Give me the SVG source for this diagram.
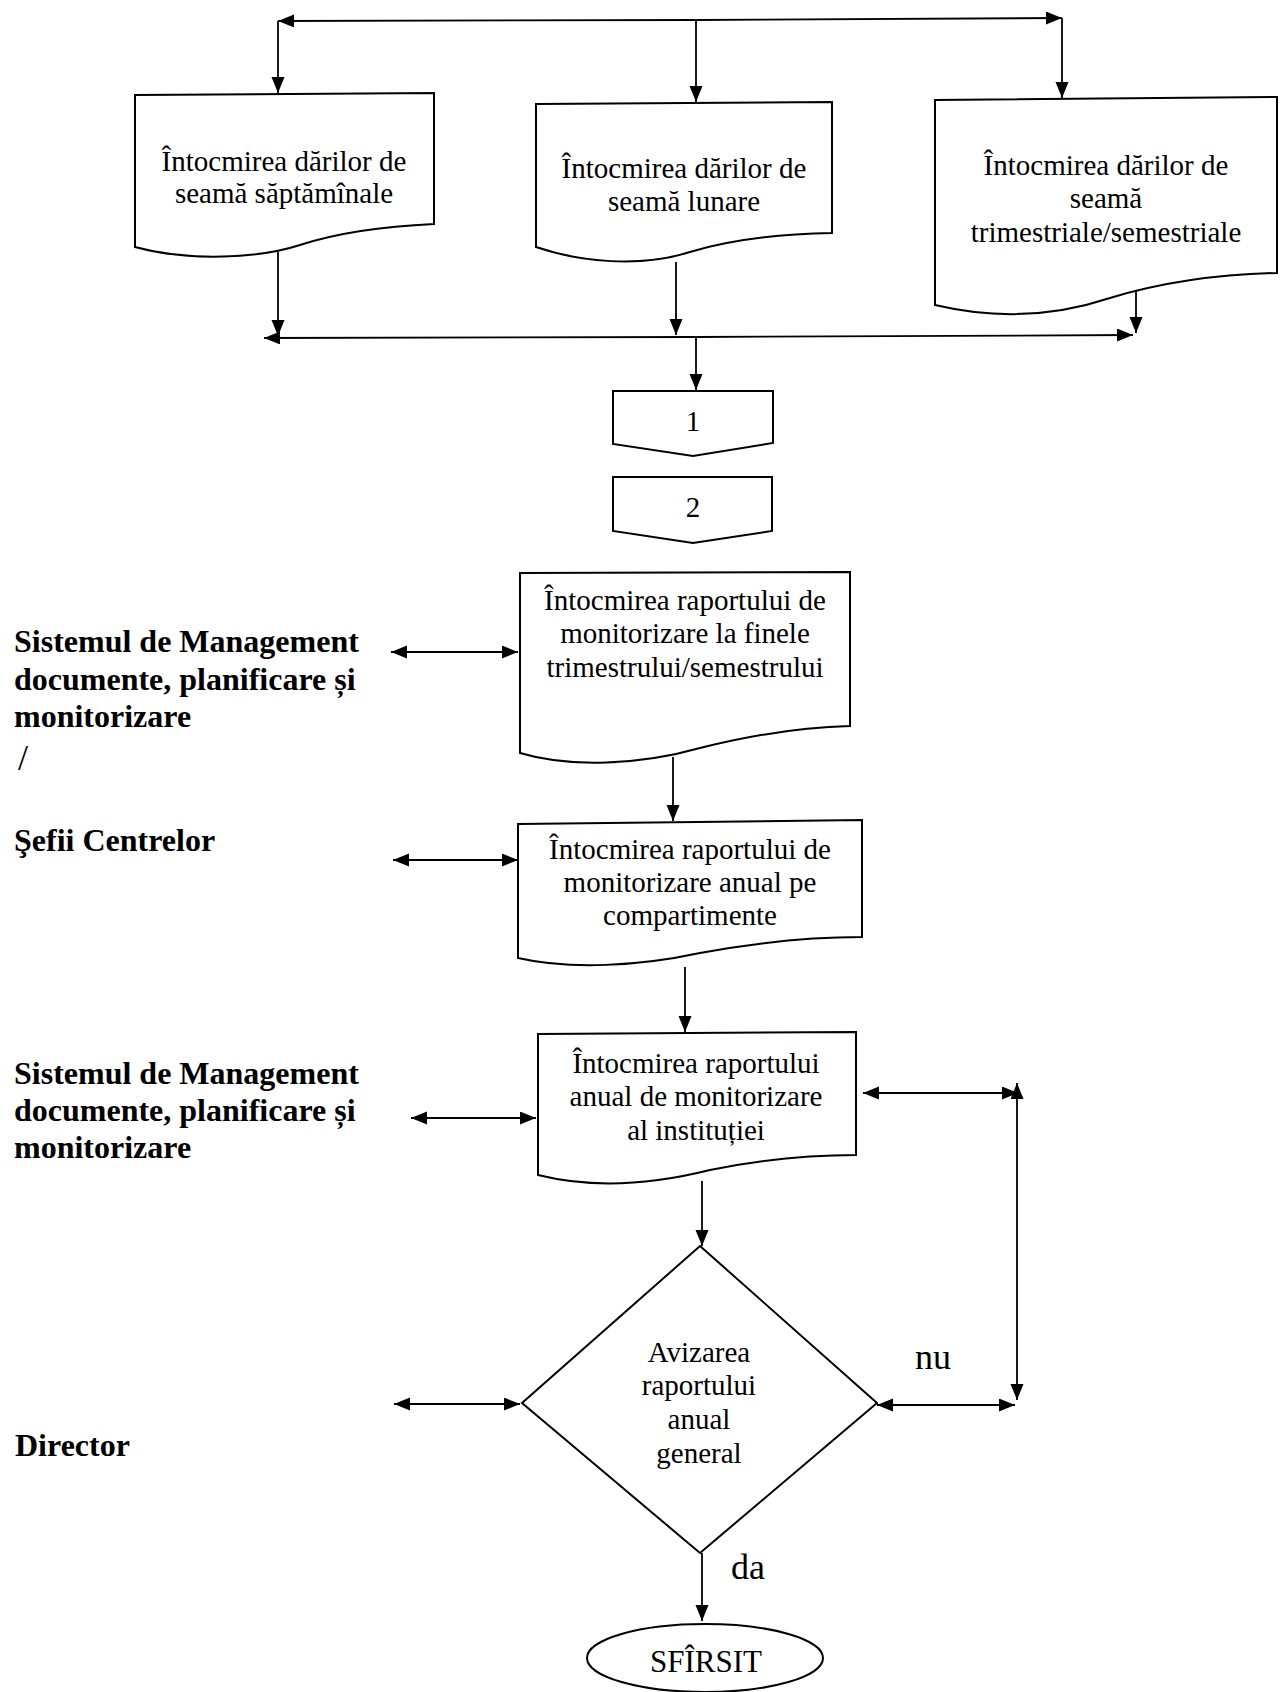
<svg xmlns="http://www.w3.org/2000/svg" width="1284" height="1692" viewBox="0 0 1284 1692">
<defs>
<marker id="ah" markerUnits="userSpaceOnUse" markerWidth="18" markerHeight="14" refX="16" refY="6.5" orient="auto-start-reverse">
<path d="M0,0 L16,6.5 L0,13 Z" fill="#000"/>
</marker>
</defs>
<style>
.shape{fill:#fff;stroke:#000;stroke-width:2;}
.t{font-family:"Liberation Serif","Times New Roman",serif;font-size:29px;fill:#000;text-anchor:middle;}
.lbl{font-family:"Liberation Serif","Times New Roman",serif;font-size:32px;font-weight:bold;fill:#000;}
.slash{font-family:"Liberation Serif","Times New Roman",serif;font-size:36px;fill:#000;}
.big{font-family:"Liberation Serif","Times New Roman",serif;font-size:36px;fill:#000;text-anchor:middle;}
.c{fill:none;stroke:#000;stroke-width:1.8;}
.a{marker-end:url(#ah);}
.aa{marker-start:url(#ah);marker-end:url(#ah);}
</style>
<rect width="1284" height="1692" fill="#fff"/>

<g id="connectors">
<path class="c a" d="M696,20 L278,21"/>
<path class="c a" d="M696,20 L1062,18"/>
<path class="c a" d="M278,21 L278,93"/>
<path class="c a" d="M696,20 L696,102"/>
<path class="c a" d="M1062,18 L1062,98"/>
<path class="c a" d="M278,252 L278,336"/>
<path class="c a" d="M676,262 L676,335"/>
<path class="c a" d="M1136,290 L1136,333"/>
<path class="c a" d="M696,337 L264,338"/>
<path class="c a" d="M696,337 L1133,335"/>
<path class="c a" d="M696,337 L696,390"/>
<path class="c a" d="M673,757 L673,821"/>
<path class="c a" d="M685,967 L685,1032"/>
<path class="c a" d="M702,1181 L702,1246"/>
<path class="c a" d="M702,1553 L702,1621"/>
<path class="c aa" d="M391,652 L518,652"/>
<path class="c aa" d="M393,860 L518,860"/>
<path class="c aa" d="M411,1118 L536,1118"/>
<path class="c aa" d="M394,1404 L520,1404"/>
<path class="c aa" d="M863,1093 L1018,1093"/>
<path class="c aa" d="M1017,1083 L1017,1400"/>
<path class="c aa" d="M877,1405 L1015,1405"/>
</g>

<g id="n_saptaminale">
<path class="shape" d="M135,95 L434,93 L434,224 C390,226 340,232 300,245 C260,258 190,262 135,247 Z"/>
<text class="t" x="284" y="171">Întocmirea dărilor de</text>
<text class="t" x="284" y="203">seamă săptămînale</text>
</g>

<g id="n_lunare">
<path class="shape" d="M536,104 L832,102 L832,233 C780,234 730,240 690,252 C640,268 580,262 536,247 Z"/>
<text class="t" x="684" y="178">Întocmirea dărilor de</text>
<text class="t" x="684" y="211">seamă lunare</text>
</g>

<g id="n_trimestriale">
<path class="shape" d="M935,100 L1277,97 L1277,273 C1230,274 1170,280 1110,298 C1050,318 990,318 935,305 Z"/>
<text class="t" x="1106" y="175">Întocmirea dărilor de</text>
<text class="t" x="1106" y="208">seamă</text>
<text class="t" x="1106" y="242">trimestriale/semestriale</text>
</g>

<g id="n_1">
<path class="shape" d="M613,391 L773,391 L773,443 L693,456 L613,444 Z"/>
<text class="t" x="693" y="431">1</text>
</g>

<g id="n_2">
<path class="shape" d="M613,477 L772,477 L772,531 L693,543 L613,531 Z"/>
<text class="t" x="693" y="517">2</text>
</g>

<g id="n_raport_trim">
<path class="shape" d="M520,573 L850,572 L850,726 C810,727 760,733 700,748 C640,765 570,768 520,753 Z"/>
<text class="t" x="685" y="610">Întocmirea raportului de</text>
<text class="t" x="685" y="643">monitorizare la finele</text>
<text class="t" x="685" y="677">trimestrului/semestrului</text>
</g>

<g id="n_raport_comp">
<path class="shape" d="M518,824 L862,820 L862,937 C820,937 770,940 700,953 C640,966 570,970 518,958 Z"/>
<text class="t" x="690" y="859">Întocmirea raportului de</text>
<text class="t" x="690" y="892">monitorizare anual pe</text>
<text class="t" x="690" y="925">compartimente</text>
</g>

<g id="n_raport_inst">
<path class="shape" d="M538,1034 L856,1032 L856,1155 C820,1155 770,1158 710,1170 C650,1185 590,1188 538,1175 Z"/>
<text class="t" x="696" y="1073">Întocmirea raportului</text>
<text class="t" x="696" y="1106">anual de monitorizare</text>
<text class="t" x="696" y="1140">al instituției</text>
</g>

<g id="n_avizare">
<path class="shape" d="M700,1246 L877,1403 L700,1553 L522,1403 Z"/>
<text class="t" x="699" y="1362">Avizarea</text>
<text class="t" x="699" y="1395">raportului</text>
<text class="t" x="699" y="1429">anual</text>
<text class="t" x="699" y="1463">general</text>
</g>

<g id="n_sfirsit">
<ellipse class="shape" cx="705" cy="1658" rx="118" ry="34"/>
<text class="t" x="706" y="1672" style="font-size:31px">SFÎRSIT</text>
</g>

<g id="edge_labels">
<text class="big" x="933" y="1369">nu</text>
<text class="big" x="748" y="1579">da</text>
</g>

<g id="lane_labels">
<text class="lbl" x="14" y="652">Sistemul de Management</text>
<text class="lbl" x="14" y="690">documente, planificare și</text>
<text class="lbl" x="14" y="727">monitorizare</text>
<text class="slash" x="18" y="770">/</text>
<text class="lbl" x="14" y="851">Şefii Centrelor</text>
<text class="lbl" x="14" y="1084">Sistemul de Management</text>
<text class="lbl" x="14" y="1121">documente, planificare și</text>
<text class="lbl" x="14" y="1158">monitorizare</text>
<text class="lbl" x="15" y="1456">Director</text>
</g>
</svg>
